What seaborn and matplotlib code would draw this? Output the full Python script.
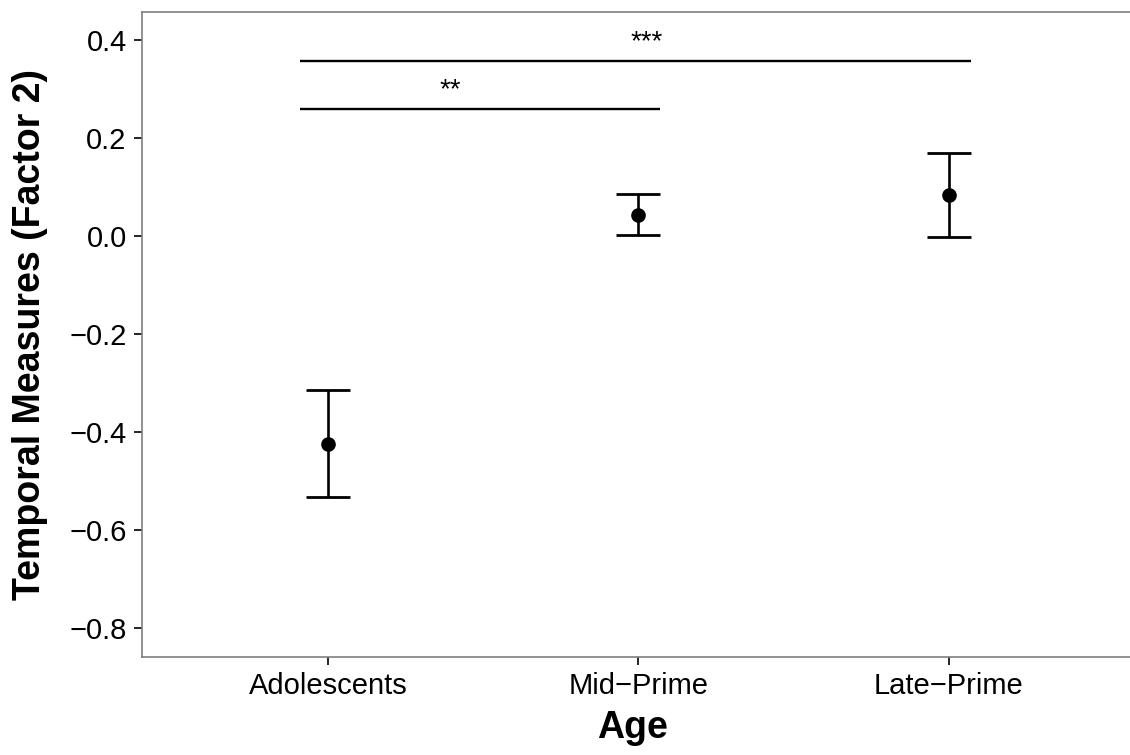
import numpy as np
import pandas as pd
import matplotlib
matplotlib.use("Agg")
import matplotlib.pyplot as plt
import seaborn as sns

# Factor 2 scores by age group: mean with lower / upper error limits
categories = ["Adolescents", "Mid\u2212Prime", "Late\u2212Prime"]
means = [-0.423, 0.044, 0.084]
lower = [-0.532, 0.002, -0.001]
upper = [-0.314, 0.086, 0.169]

# significance brackets: (start category, end category, height, label, label x)
bracket_start = [0, 0]
bracket_end = [2, 1]
bracket_y = [0.357, 0.259]
bracket_labels = ["***", "**"]
bracket_label_x = [1.027, 0.393]

y_ticks = [0.4, 0.2, 0.0, -0.2, -0.4, -0.6, -0.8]

sns.set_theme(style="white")
plt.rcParams["font.family"] = ["Liberation Sans", "DejaVu Sans"]

df = pd.DataFrame({"Age": categories, "Score": means})

fig = plt.figure(figsize=(11.3, 7.55), dpi=100)
ax = fig.add_axes([142 / 1130, 1 - 657 / 755, 993 / 1130, 645 / 755])

sns.pointplot(data=df, x="Age", y="Score", order=categories, errorbar=None,
              color="black", markers="o", linestyle="none", markersize=8.5,
              ax=ax, zorder=4)

yerr = np.array([np.array(means) - np.array(lower),
                 np.array(upper) - np.array(means)])
ax.errorbar(x=np.arange(len(categories)), y=means, yerr=yerr, fmt="none",
            ecolor="black", elinewidth=1.9, capsize=15.5, capthick=2.0,
            zorder=3)

# significance brackets
for s, e, yv, lab, lx in zip(bracket_start, bracket_end, bracket_y,
                             bracket_labels, bracket_label_x):
    x0 = s - 0.09
    x1 = e + 0.07
    ax.plot([x0, x1], [yv, yv], color="black", linewidth=1.7,
            solid_capstyle="butt")
    ax.text(lx, yv + 0.024, lab, ha="center", va="baseline",
            fontsize=20, color="black")

ax.set_xlim(-0.6, 2.6)
ax.set_ylim(-0.8584, 0.4573)
ax.set_yticks(y_ticks)
ax.set_yticklabels([f"{v:.1f}".replace("-", "\u2212") for v in y_ticks])

ax.set_xlabel("Age", fontsize=27, fontweight="bold", va="center",
              color="black")
ax.set_ylabel("Temporal Measures (Factor 2)", fontsize=27, fontweight="bold",
              va="center", color="black")
ax.xaxis.set_label_coords(0.4944, -0.110)
ax.yaxis.set_label_coords((29.5 - 142) / 993, (657 - 335) / 645)

ax.tick_params(axis="both", which="both", labelsize=21, colors="black",
               length=6, width=1.2, pad=5, direction="out",
               bottom=True, left=True)

for side in ["left", "top", "bottom"]:
    ax.spines[side].set_color("#7f7f7f")
    ax.spines[side].set_linewidth(1.2)
    ax.spines[side].set_visible(True)
ax.spines["right"].set_visible(False)

ax.grid(False)
fig.savefig("out.png", dpi=100)
